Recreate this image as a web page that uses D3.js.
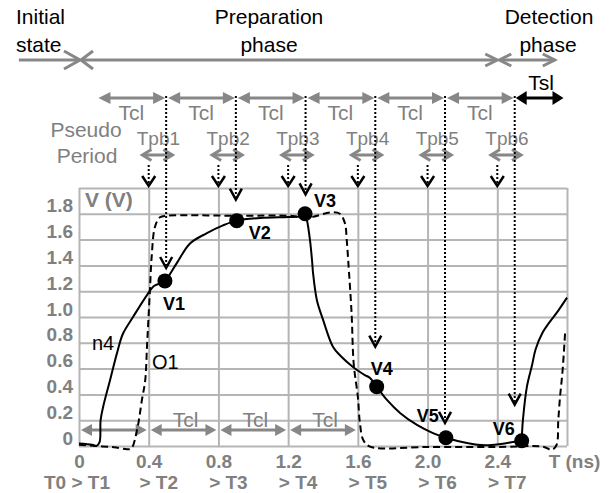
<!DOCTYPE html>
<html><head><meta charset="utf-8">
<script src="https://cdn.jsdelivr.net/npm/d3@7"></script>
<style>
html,body{margin:0;padding:0;background:#fff;}
svg{display:block;font-family:"Liberation Sans",Arial,sans-serif;}
</style></head><body>
<svg id="c" width="615" height="493"></svg>
<script>
// ---------------- data ----------------
const xTicks = [0, 0.4, 0.8, 1.2, 1.6, 2.0, 2.4, 2.8];
const xTickLabels = ["0", "0.4", "0.8", "1.2", "1.6", "2.0", "2.4", "T (ns)"];
const xStepLabels = ["T0 > T1", "> T2", "> T3", "> T4", "> T5", "> T6", "> T7"];
const yTicks = [0, 0.2, 0.4, 0.6, 0.8, 1.0, 1.2, 1.4, 1.6, 1.8, 2.0];
const yTickLabels = ["0", "0.2", "0.4", "0.6", "0.8", "1.0", "1.2", "1.4", "1.6", "1.8", ""];

// node n4 (solid) : [t (ns), V]
const n4 = [
  [0, 0.02], [0.075, 0.01], [0.10, 0.0], [0.118, 0.03], [0.124, 0.2], [0.138, 0.30],
  [0.178, 0.51], [0.218, 0.72], [0.252, 0.87], [0.31, 1.0], [0.39, 1.17], [0.43, 1.24],
  [0.465, 1.26], [0.493, 1.28], [0.562, 1.42], [0.637, 1.57], [0.734, 1.65], [0.826, 1.71],
  [0.905, 1.747], [1.04, 1.767], [1.2, 1.775], [1.27, 1.78], [1.297, 1.80], [1.308, 1.75],
  [1.325, 1.60], [1.337, 1.44], [1.343, 1.34], [1.365, 1.13], [1.40, 0.98], [1.457, 0.77],
  [1.50, 0.70], [1.57, 0.615], [1.612, 0.574], [1.64, 0.55], [1.67, 0.527], [1.708, 0.46],
  [1.767, 0.357], [1.842, 0.256], [1.939, 0.163], [2.031, 0.10], [2.105, 0.064], [2.226, 0.023],
  [2.33, 0.005], [2.42, 0.015], [2.50, 0.033], [2.54, 0.041], [2.542, 0.10], [2.547, 0.2],
  [2.57, 0.46], [2.60, 0.63], [2.62, 0.75], [2.66, 0.88], [2.70, 0.96], [2.75, 1.05], [2.80, 1.15]
];
// output O1 (dashed)
const o1 = [
  [0, 0.01], [0.1, 0.0], [0.2, -0.01], [0.275, -0.025], [0.30, -0.02], [0.333, 0.124],
  [0.361, 0.357], [0.38, 0.51], [0.39, 0.77], [0.398, 0.977], [0.407, 1.21], [0.417, 1.467],
  [0.436, 1.70], [0.465, 1.773], [0.503, 1.785], [0.9, 1.785], [1.2, 1.785], [1.27, 1.778],
  [1.344, 1.778], [1.44, 1.81], [1.497, 1.80], [1.526, 1.726], [1.536, 1.60], [1.545, 1.43],
  [1.564, 1.03], [1.576, 0.64], [1.60, 0.38], [1.612, 0.176], [1.631, 0.047], [1.67, -0.005],
  [2.0, -0.008], [2.4, -0.008], [2.664, -0.005], [2.712, -0.03], [2.74, 0.008], [2.75, 0.2],
  [2.76, 0.38], [2.775, 0.59], [2.79, 0.90]
];
// sampled voltages V1..V6
const sampleNames = ["V1", "V2", "V3", "V4", "V5", "V6"];
const sampleT = [0.493, 0.905, 1.297, 1.708, 2.105, 2.54];
const sampleV = [1.28, 1.747, 1.80, 0.46, 0.064, 0.041];
// probe (dotted) arrows
const probeT = [0.5, 0.9, 1.3, 1.7, 2.1, 2.5];
const probeTipV = [1.38, 1.91, 1.95, 0.77, 0.18, 0.32];
const shortProbeT = [0.4, 0.8, 1.2, 1.6, 2.0, 2.4];
// pseudo-period Tpb
const pbCenterT = [0.45, 0.85, 1.25, 1.65, 2.05, 2.45];
const pbLabels = ["Tpb1", "Tpb2", "Tpb3", "Tpb4", "Tpb5", "Tpb6"];
// clock periods
const tclTop = [[0.1, 0.5], [0.5, 0.9], [0.9, 1.3], [1.3, 1.7], [1.7, 2.1], [2.1, 2.5]];
const tslSpan = [2.5, 2.78];
const tclBottom = [[0, 0.4], [0.4, 0.8], [0.8, 1.2], [1.2, 1.6]];
const tclBottomLabels = ["", "Tcl", "Tcl", "Tcl"];
// phases
const phaseSpans = [[-0.345, 0], [0, 2.4], [2.4, 2.73]];

// ---------------- drawing ----------------
const GRAY_T = "#808080", GRAY_A = "#878787", GRID = "#b5b5b5";
const svg = d3.select("#c");
const x = d3.scaleLinear().domain([0, 2.8]).range([79, 567]);
const y = d3.scaleLinear().domain([0, 2]).range([446, 188]);
const pw = x(2.8) - x(0), ph = y(0) - y(2);

// grid + axes
const gx = svg.append("g").attr("transform", `translate(0,${y(0)})`)
  .call(d3.axisBottom(x).tickValues(xTicks).tickSize(-ph).tickPadding(0)
    .tickFormat((d, i) => xTickLabels[i]));
gx.select(".domain").remove();
gx.selectAll("line").attr("stroke", GRID).attr("stroke-width", 2);
gx.selectAll("text").attr("y", 22).attr("dy", 0).attr("fill", GRAY_T)
  .attr("font-size", 19).attr("font-weight", "bold")
  .attr("font-family", "Liberation Sans, Arial, sans-serif")
  .attr("dx", (d, i) => i === xTicks.length - 1 ? 7 : 0);

const gy = svg.append("g").attr("transform", `translate(${x(0)},0)`)
  .call(d3.axisLeft(y).tickValues(yTicks).tickSize(-pw).tickPadding(6)
    .tickFormat((d, i) => yTickLabels[i]));
gy.select(".domain").remove();
gy.selectAll("line").attr("stroke", GRID).attr("stroke-width", 2);
gy.selectAll("text").attr("dy", -2).attr("fill", GRAY_T)
  .attr("font-size", 19).attr("font-weight", "bold")
  .attr("font-family", "Liberation Sans, Arial, sans-serif");

// step labels under ticks
svg.append("g").selectAll("text").data(xStepLabels).join("text")
  .attr("x", (d, i) => x(xTicks[i]) + (i === 0 ? -2 : 10))
  .attr("y", 489).attr("text-anchor", "middle")
  .attr("fill", GRAY_T).attr("font-size", 19).attr("font-weight", "bold")
  .text(d => d);

// axis titles
svg.append("text").attr("x", x(0) + 6).attr("y", 207).attr("fill", GRAY_T)
  .attr("font-size", 21).attr("font-weight", "bold").text("V (V)");

// helpers
function filledArrow(g, x1, x2, yy, color, sw, hl, hw) {
  g.append("line").attr("x1", x1 + hl - 1).attr("x2", x2 - hl + 1).attr("y1", yy).attr("y2", yy)
    .attr("stroke", color).attr("stroke-width", sw);
  g.append("path").attr("d", `M${x1},${yy}L${x1 + hl},${yy - hw}L${x1 + hl},${yy + hw}Z`).attr("fill", color);
  g.append("path").attr("d", `M${x2},${yy}L${x2 - hl},${yy - hw}L${x2 - hl},${yy + hw}Z`).attr("fill", color);
}
function chevH(g, tipX, yy, dir, len, hw, color, sw) {
  const bx = tipX - dir * len;
  g.append("path").attr("d", `M${bx},${yy - hw}L${tipX},${yy}L${bx},${yy + hw}`)
    .attr("fill", "none").attr("stroke", color).attr("stroke-width", sw);
}
function chevDown(g, xx, tipY, len, hw, color, sw) {
  g.append("path").attr("d", `M${xx - hw},${tipY - len}L${xx},${tipY}L${xx + hw},${tipY - len}`)
    .attr("fill", "none").attr("stroke", color).attr("stroke-width", sw);
}

// phase line
const gPh = svg.append("g");
const phY = 60;
phaseSpans.forEach((s, i) => {
  const x1 = x(s[0]) + (i === 0 ? 0 : 2), x2 = x(s[1]) + (i === 0 ? 1 : 0);
  gPh.append("line").attr("x1", x1).attr("x2", x2).attr("y1", phY).attr("y2", phY)
    .attr("stroke", GRAY_A).attr("stroke-width", 3);
  chevH(gPh, x2, phY, 1, i === 0 ? 16 : 12, i === 0 ? 9 : 6, GRAY_A, 3);
  if (i > 0) chevH(gPh, x1, phY, -1, 12, i === 1 ? 9 : 6, GRAY_A, 3);
});
const phaseTxt = svg.append("g").attr("font-size", 21).attr("fill", "#000");
phaseTxt.append("text").attr("x", 16).attr("y", 24).text("Initial");
phaseTxt.append("text").attr("x", 16).attr("y", 52).text("state");
phaseTxt.append("text").attr("x", 269).attr("y", 24).attr("text-anchor", "middle").text("Preparation");
phaseTxt.append("text").attr("x", 269).attr("y", 52).attr("text-anchor", "middle").text("phase");
phaseTxt.append("text").attr("x", 549).attr("y", 24).attr("text-anchor", "middle").text("Detection");
phaseTxt.append("text").attr("x", 548).attr("y", 52).attr("text-anchor", "middle").text("phase");

// Tcl top arrows
const gT = svg.append("g");
const tclY = 98;
tclTop.forEach(s => filledArrow(gT, x(s[0]) + 2, x(s[1]) - 1, tclY, GRAY_A, 3, 12, 6));
gT.selectAll("text.tcl").data(tclTop).join("text").attr("class", "tcl")
  .attr("x", d => (x(d[0]) + x(d[1])) / 2).attr("y", 120).attr("text-anchor", "middle")
  .attr("fill", GRAY_T).attr("font-size", 21).text("Tcl");
filledArrow(gT, x(tslSpan[0]) + 1, x(tslSpan[1]), tclY, "#000", 3, 11, 7);
gT.append("text").attr("x", (x(tslSpan[0]) + x(tslSpan[1])) / 2 + 2).attr("y", 90)
  .attr("text-anchor", "middle").attr("font-size", 21).attr("fill", "#000").text("Tsl");

// Pseudo period
svg.append("text").attr("x", 86).attr("y", 137).attr("text-anchor", "middle")
  .attr("fill", GRAY_T).attr("font-size", 21).text("Pseudo");
svg.append("text").attr("x", 87).attr("y", 163).attr("text-anchor", "middle")
  .attr("fill", GRAY_T).attr("font-size", 21).text("Period");
const gP = svg.append("g");
pbCenterT.forEach((c, i) => {
  const cx = x(c), yy = 155;
  gP.append("line").attr("x1", cx - 14).attr("x2", cx + 14).attr("y1", yy).attr("y2", yy)
    .attr("stroke", GRAY_A).attr("stroke-width", 3);
  chevH(gP, cx - 15, yy, -1, 9, 5.5, GRAY_A, 3);
  chevH(gP, cx + 15, yy, 1, 9, 5.5, GRAY_A, 3);
  gP.append("text").attr("x", cx + 1).attr("y", 145).attr("text-anchor", "middle")
    .attr("fill", GRAY_T).attr("font-size", 19).text(pbLabels[i]);
});

// bottom Tcl arrows (inside plot)
const gB = svg.append("g");
tclBottom.forEach((s, i) => {
  filledArrow(gB, x(s[0]) + 2, x(s[1]) - 2, 430, GRAY_A, 3, 11, 6);
  if (tclBottomLabels[i]) gB.append("text").attr("x", (x(s[0]) + x(s[1])) / 2 + 2).attr("y", 427)
    .attr("text-anchor", "middle").attr("fill", GRAY_T).attr("font-size", 21).text(tclBottomLabels[i]);
});

// curves
const line = d3.line().x(d => x(d[0])).y(d => y(d[1])).curve(d3.curveCatmullRom.alpha(0.5));
svg.append("path").attr("d", line(o1)).attr("fill", "none").attr("stroke", "#000")
  .attr("stroke-width", 2).attr("stroke-dasharray", "7,4");
svg.append("path").attr("d", line(n4)).attr("fill", "none").attr("stroke", "#000")
  .attr("stroke-width", 2);
svg.append("text").attr("x", 92).attr("y", 350).attr("font-size", 20).text("n4");
svg.append("text").attr("x", 152).attr("y", 369).attr("font-size", 20).text("O1");

// probe arrows (dotted)
const gD = svg.append("g");
shortProbeT.forEach(t => {
  gD.append("line").attr("x1", x(t)).attr("x2", x(t)).attr("y1", 165).attr("y2", 183)
    .attr("stroke", "#000").attr("stroke-width", 2).attr("stroke-dasharray", "2,2");
  chevDown(gD, x(t), 186, 10, 6.5, "#000", 2.5);
});
probeT.forEach((t, i) => {
  const tip = y(probeTipV[i]);
  gD.append("line").attr("x1", x(t)).attr("x2", x(t)).attr("y1", 96).attr("y2", tip - 3)
    .attr("stroke", "#000").attr("stroke-width", 2).attr("stroke-dasharray", "2,2");
  chevDown(gD, x(t), tip, 11, 6, "#000", 2.5);
});

// sample dots + labels
const labDx = [-2, 12, 9, -6, -29, -29];
const labDy = [29, 18, -7, -12, -16, -6];
const gS = svg.append("g");
sampleT.forEach((t, i) => {
  gS.append("circle").attr("cx", x(t)).attr("cy", y(sampleV[i])).attr("r", 7.5).attr("fill", "#000");
  gS.append("text").attr("x", x(t) + labDx[i]).attr("y", y(sampleV[i]) + labDy[i])
    .attr("font-size", 18).attr("font-weight", "bold").attr("fill", "#000").text(sampleNames[i]);
});
</script>
</body></html>
